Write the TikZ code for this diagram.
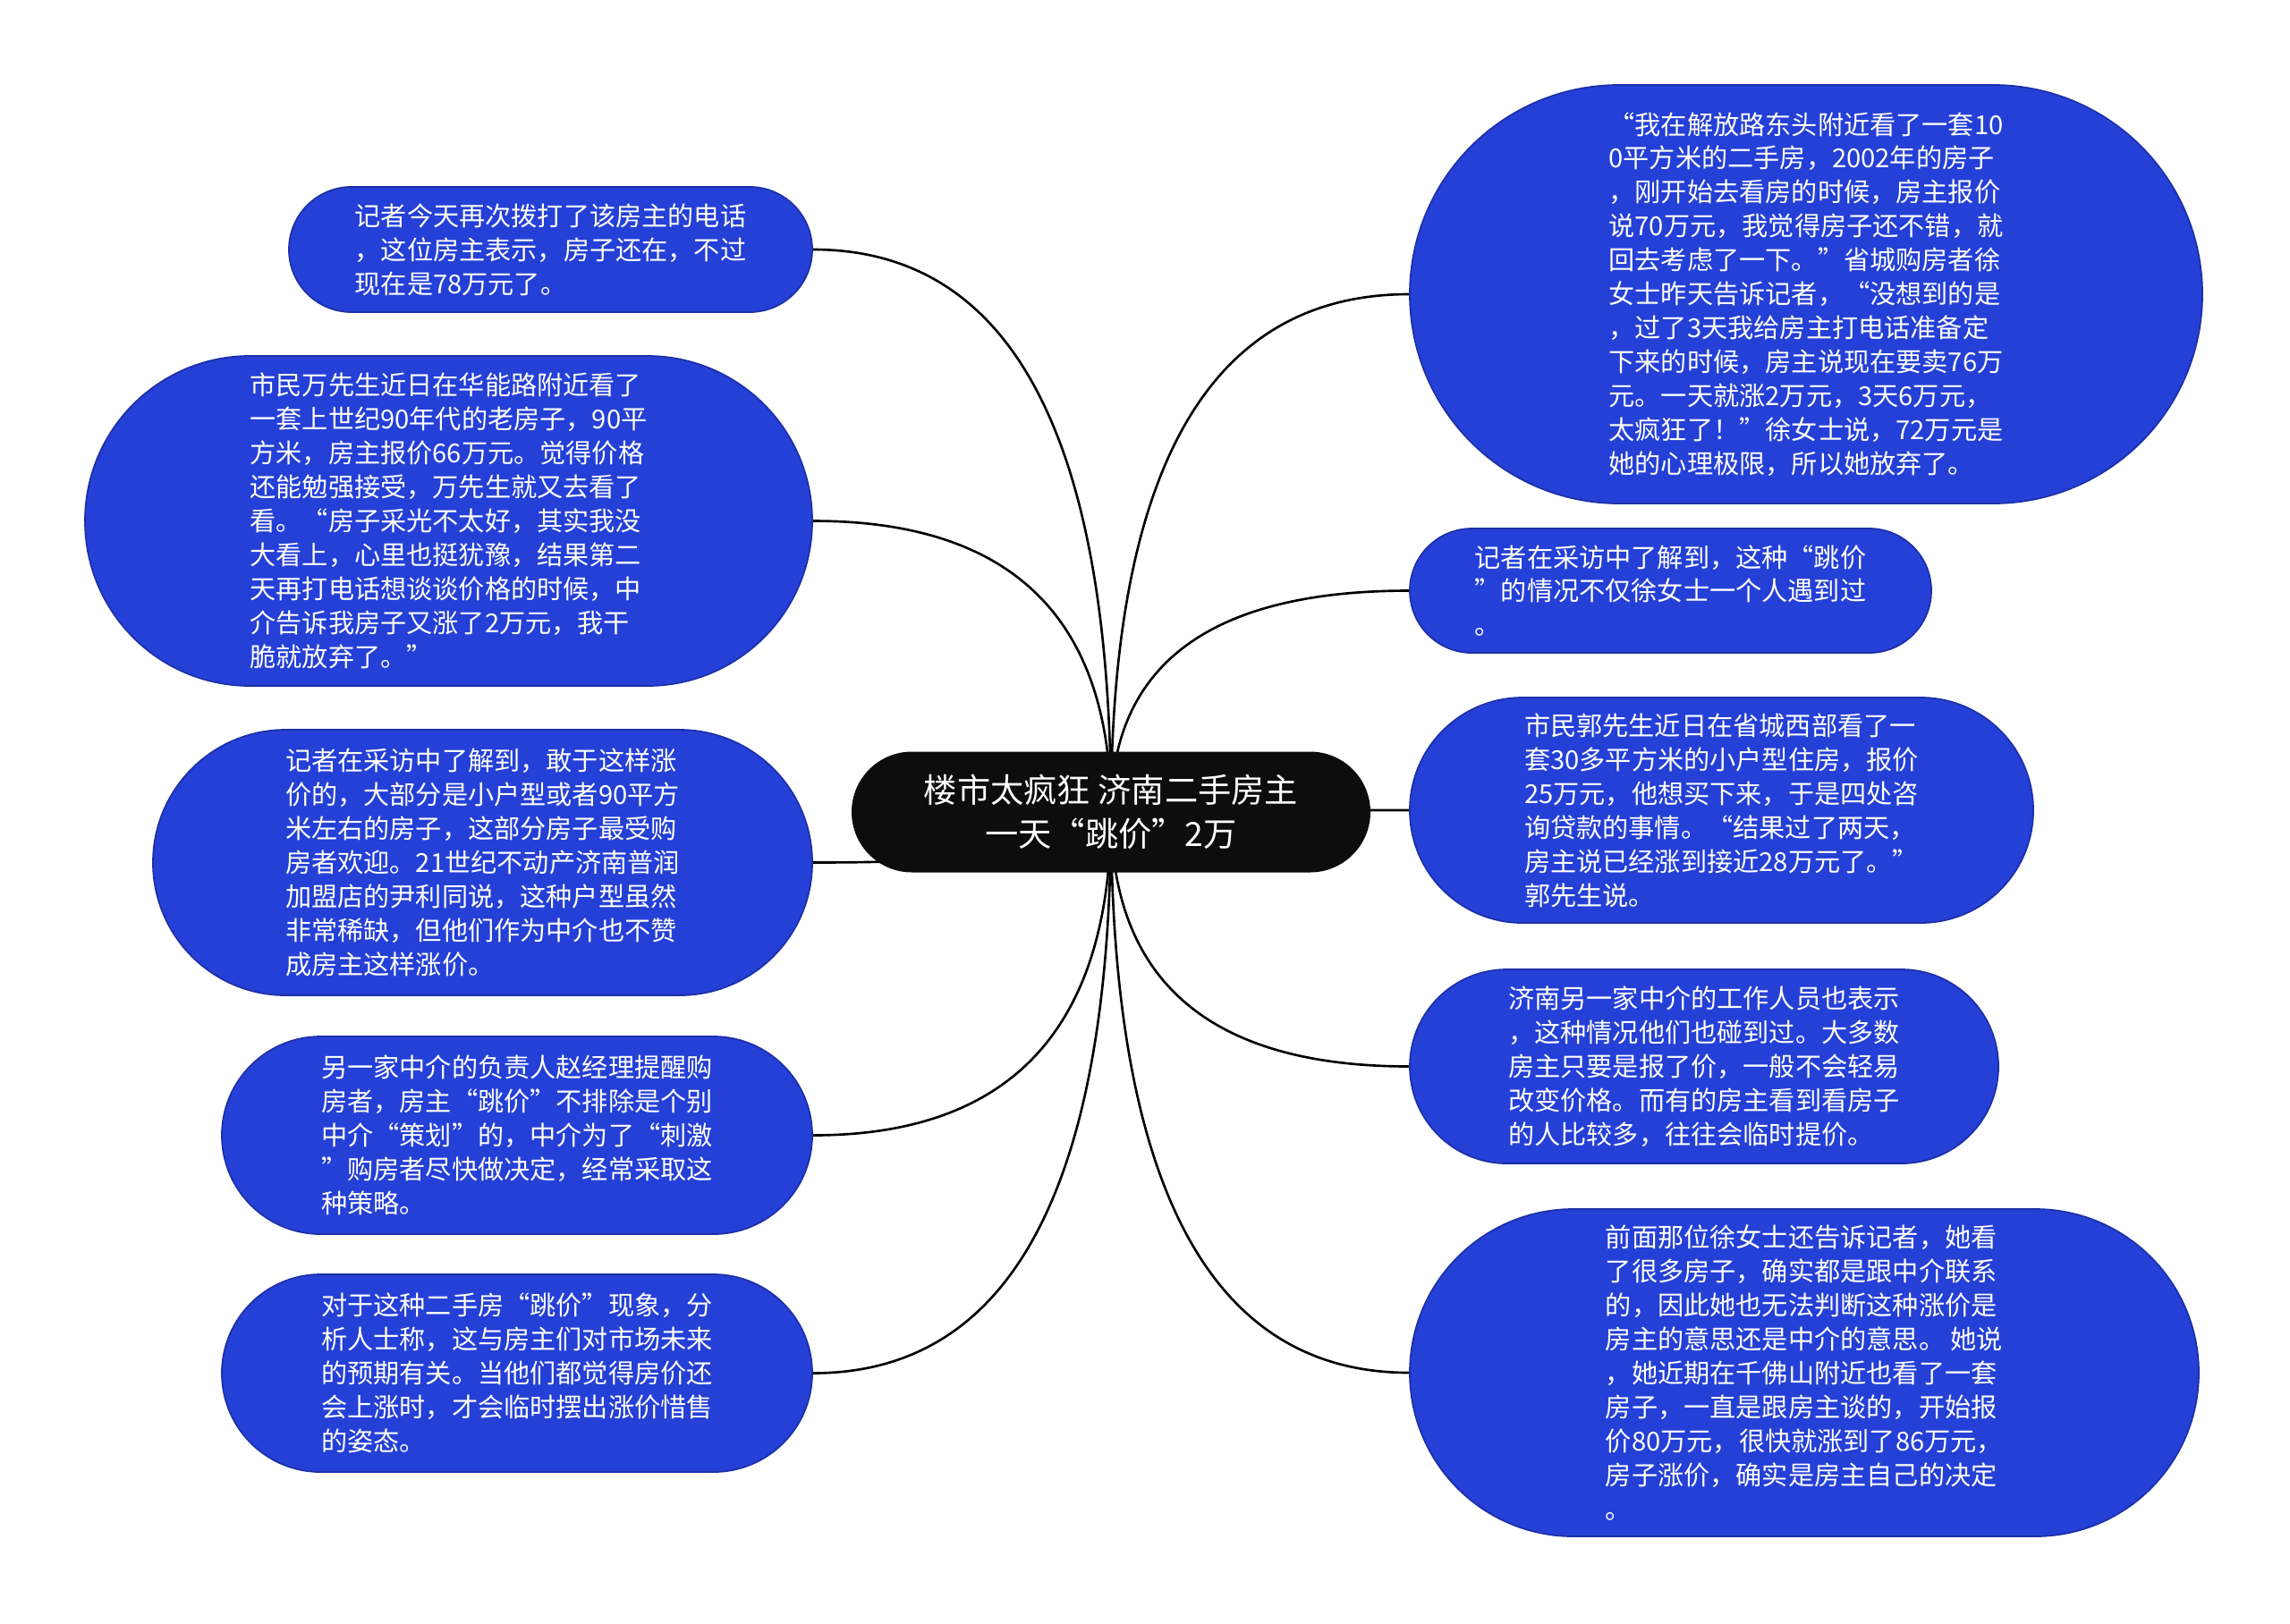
\documentclass[tikz,border=0pt]{standalone}
\usepackage{fontspec}
\setmainfont{Noto Sans CJK SC}
\usetikzlibrary{calc,backgrounds}

\definecolor{leafblue}{RGB}{37,64,214}
\definecolor{leafedge}{RGB}{28,48,168}
\definecolor{rootblack}{RGB}{13,13,13}

\begin{document}
\begin{tikzpicture}[
  leaf/.style={rectangle, draw=leafedge, line width=0.5pt, fill=leafblue, text=white, inner sep=0pt, align=left, font=\fontsize{8.3pt}{10.8pt}\selectfont},
  root/.style={rectangle, fill=rootblack, text=white, inner sep=0pt, align=center, minimum width=5.8cm, minimum height=1.35cm, rounded corners=0.675cm, font=\fontsize{10.6pt}{14pt}\selectfont},
  link/.style={line width=0.75pt, to path={.. controls ($(\tikztostart)!2/3!(\tikztostart |- \tikztotarget)$) and ($(\tikztotarget)!2/3!(\tikztostart |- \tikztotarget)$) .. (\tikztotarget)}}
]
\useasboundingbox (0,0) rectangle (25.6,-18.15);

% Central topic
\node[root] (root) at (12.42,-9.08) {楼市太疯狂 济南二手房主\\一天“跳价”2万};

% Left branch
\node[leaf, minimum width=5.85cm, minimum height=1.40cm, rounded corners=0.70cm] (call) at (6.155,-2.79)
  {记者今天再次拨打了该房主的电话\\，这位房主表示，房子还在，不过\\现在是78万元了。};
\node[leaf, minimum width=8.13cm, minimum height=3.69cm, rounded corners=1.845cm] (wan) at (5.015,-5.825)
  {市民万先生近日在华能路附近看了\\一套上世纪90年代的老房子，90平\\方米，房主报价66万元。觉得价格\\还能勉强接受，万先生就又去看了\\看。“房子采光不太好，其实我没\\大看上，心里也挺犹豫，结果第二\\天再打电话想谈谈价格的时候，中\\介告诉我房子又涨了2万元，我干\\脆就放弃了。”};
\node[leaf, minimum width=7.37cm, minimum height=2.97cm, rounded corners=1.485cm] (small) at (5.395,-9.645)
  {记者在采访中了解到，敢于这样涨\\价的，大部分是小户型或者90平方\\米左右的房子，这部分房子最受购\\房者欢迎。21世纪不动产济南普润\\加盟店的尹利同说，这种户型虽然\\非常稀缺，但他们作为中介也不赞\\成房主这样涨价。};
\node[leaf, minimum width=6.60cm, minimum height=2.21cm, rounded corners=1.105cm] (zhao) at (5.78,-12.695)
  {另一家中介的负责人赵经理提醒购\\房者，房主“跳价”不排除是个别\\中介“策划”的，中介为了“刺激\\”购房者尽快做决定，经常采取这\\种策略。};
\node[leaf, minimum width=6.60cm, minimum height=2.21cm, rounded corners=1.105cm] (expect) at (5.78,-15.355)
  {对于这种二手房“跳价”现象，分\\析人士称，这与房主们对市场未来\\的预期有关。当他们都觉得房价还\\会上涨时，才会临时摆出涨价惜售\\的姿态。};

% Right branch
\node[leaf, minimum width=8.86cm, minimum height=4.68cm, rounded corners=2.34cm] (xu) at (20.19,-3.29)
  {“我在解放路东头附近看了一套10\\0平方米的二手房，2002年的房子\\，刚开始去看房的时候，房主报价\\说70万元，我觉得房子还不错，就\\回去考虑了一下。”省城购房者徐\\女士昨天告诉记者，“没想到的是\\，过了3天我给房主打电话准备定\\下来的时候，房主说现在要卖76万\\元。一天就涨2万元，3天6万元，\\太疯狂了！”徐女士说，72万元是\\她的心理极限，所以她放弃了。};
\node[leaf, minimum width=5.83cm, minimum height=1.39cm, rounded corners=0.695cm] (notonly) at (18.675,-6.605)
  {记者在采访中了解到，这种“跳价\\”的情况不仅徐女士一个人遇到过\\。};
\node[leaf, minimum width=6.97cm, minimum height=2.52cm, rounded corners=1.26cm] (guo) at (19.245,-9.06)
  {市民郭先生近日在省城西部看了一\\套30多平方米的小户型住房，报价\\25万元，他想买下来，于是四处咨\\询贷款的事情。“结果过了两天，\\房主说已经涨到接近28万元了。”\\郭先生说。};
\node[leaf, minimum width=6.58cm, minimum height=2.17cm, rounded corners=1.085cm] (agency) at (19.05,-11.925)
  {济南另一家中介的工作人员也表示\\，这种情况他们也碰到过。大多数\\房主只要是报了价，一般不会轻易\\改变价格。而有的房主看到看房子\\的人比较多，往往会临时提价。};
\node[leaf, minimum width=8.82cm, minimum height=3.66cm, rounded corners=1.83cm] (owner) at (20.17,-15.35)
  {前面那位徐女士还告诉记者，她看\\了很多房子，确实都是跟中介联系\\的，因此她也无法判断这种涨价是\\房主的意思还是中介的意思。 她说\\，她近期在千佛山附近也看了一套\\房子，一直是跟房主谈的，开始报\\价80万元，很快就涨到了86万元，\\房子涨价，确实是房主自己的决定\\。};

% Connectors
\begin{scope}[on background layer]
\draw[link] (root.center) to (call.east);
\draw[link] (root.center) to (wan.east);
\draw[link] (root.center) to (small.east);
\draw[link] (root.center) to (zhao.east);
\draw[link] (root.center) to (expect.east);
\draw[link] (root.center) to (xu.west);
\draw[link] (root.center) to (notonly.west);
\draw[link] (root.center) to (guo.west);
\draw[link] (root.center) to (agency.west);
\draw[link] (root.center) to (owner.west);
\end{scope}

\end{tikzpicture}
\end{document}
